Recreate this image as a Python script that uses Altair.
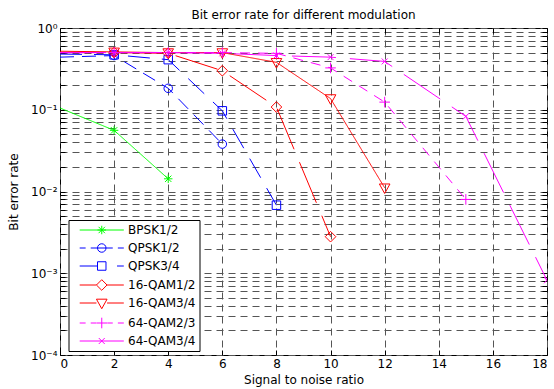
import altair as alt
import pandas as pd

# ---------------- data ----------------
series_names = ["BPSK1/2", "QPSK1/2", "QPSK3/4", "16-QAM1/2",
                "16-QAM3/4", "64-QAM2/3", "64-QAM3/4"]
series_colors = ["#00ff00", "#0000ff", "#0000ff", "#ff0000",
                 "#ff0000", "#ff00ff", "#ff00ff"]

bpsk12_snr = [0, 2, 4]
bpsk12_ber = [0.105, 0.056, 0.0143]

qpsk12_snr = [0, 2, 4, 6]
qpsk12_ber = [0.44, 0.46, 0.183, 0.038]

qpsk34_snr = [0, 2, 4, 6, 8]
qpsk34_ber = [0.48, 0.47, 0.41, 0.097, 0.0068]

qam16_12_snr = [0, 2, 4, 6, 8, 10]
qam16_12_ber = [0.50, 0.50, 0.49, 0.30, 0.108, 0.0028]

qam16_34_snr = [0, 2, 4, 6, 8, 10, 12]
qam16_34_ber = [0.52, 0.51, 0.50, 0.50, 0.38, 0.137, 0.0111]

qam64_23_snr = [0, 2, 4, 6, 8, 10, 12, 15]
qam64_23_ber = [0.50, 0.50, 0.50, 0.50, 0.49, 0.325, 0.124, 0.008]

qam64_34_snr = [0, 2, 4, 6, 8, 10, 12, 15, 18]
qam64_34_ber = [0.50, 0.50, 0.50, 0.49, 0.46, 0.44, 0.39, 0.083, 0.00082]

x_tick_values = [0, 2, 4, 6, 8, 10, 12, 14, 16, 18]
y_decades = [1, 0.1, 0.01, 0.001, 0.0001]
y_tick_labels = ["10⁰", "10⁻¹", "10⁻²", "10⁻³", "10⁻⁴"]

# ---------------- table ----------------
all_snr = [bpsk12_snr, qpsk12_snr, qpsk34_snr, qam16_12_snr,
           qam16_34_snr, qam64_23_snr, qam64_34_snr]
all_ber = [bpsk12_ber, qpsk12_ber, qpsk34_ber, qam16_12_ber,
           qam16_34_ber, qam64_23_ber, qam64_34_ber]
rows = []
for name, xs, ys in zip(series_names, all_snr, all_ber):
    for xv, yv in zip(xs, ys):
        rows.append({"series": name, "snr": xv, "ber": yv})
df = pd.DataFrame(rows)

y_grid_values = [m * d for d in y_decades[1:] for m in range(1, 10)] + [1]
label_expr = " : ".join(
    f"abs(datum.value - {v}) < {v * 1e-6} ? '{t}'" for v, t in zip(y_decades, y_tick_labels)
) + " : ''"

# ---------------- styles ----------------
FONT = "DejaVu Sans"
TICK = 5
dash_styles = [[1, 0], [14, 8], [22, 12], [44, 14], [1, 0], [10, 8], [44, 14]]

m_star = "M-1,0H1M0,-1V1M-0.75,-0.75L0.75,0.75M-0.75,0.75L0.75,-0.75"
m_circle = "M-1,0A1,1,0,1,1,1,0A1,1,0,1,1,-1,0Z"
m_square = "M-1,-1H1V1H-1Z"
m_diamond = "M0,-1.25L1.25,0L0,1.25L-1.25,0Z"
m_tri = "M-1.25,-0.9H1.25L0,1.35Z"
m_plus = "M-1.25,0H1.25M0,-1.25V1.25"
m_x = "M-0.7,-0.7L0.7,0.7M-0.7,0.7L0.7,-0.7"
marker_paths = [m_star, m_circle, m_square, m_diamond, m_tri, m_plus, m_x]

legend_paths = [
    "M-5.2,0H5.2" + m_star,
    "M-5.2,0H-3.8M-2.6,0H2.6M3.8,0H5.2" + m_circle,
    "M-5.2,0H-1M3.6,0H5.2" + m_square,
    "M-5.2,0H-1.25M1.25,0H5.2" + m_diamond,
    "M-5.2,0H-1.25M1.25,0H5.2" + m_tri,
    "M-5.2,0H-3.8M-2.6,0H-1.3M1.3,0H2.6M3.8,0H5.2" + m_plus,
    "M-5.2,0H5.2" + m_x,
]

color_scale = alt.Scale(domain=series_names, range=series_colors)
x_scale = alt.Scale(domain=[0, 18], nice=False, zero=False)
y_scale = alt.Scale(type="log", domain=[0.0001, 1], nice=False)

common_axis = dict(gridDash=[7, 5], gridColor="#555", gridWidth=1,
                   tickSize=TICK, offset=-TICK, tickColor="black", tickWidth=1,
                   domain=False, labelFont=FONT, labelFontSize=12, labelColor="black",
                   titleFont=FONT, titleFontSize=12, titleFontWeight="normal",
                   titleColor="black")

x_enc = alt.X("snr:Q", scale=x_scale,
              axis=alt.Axis(values=x_tick_values, format="d", title="Signal to noise ratio",
                            grid=True, labelPadding=3, titlePadding=5, **common_axis))
y_enc = alt.Y("ber:Q", scale=y_scale,
              axis=alt.Axis(values=y_grid_values, labelExpr=label_expr, labelOverlap=False,
                            title="Bit error rate", grid=True, labelPadding=3,
                            titleX=-47 - TICK, titleY=163.5, titleAngle=270,
                            titleAlign="center", titleBaseline="middle", **common_axis))

x_enc_top = alt.X("snr:Q", scale=x_scale,
                  axis=alt.Axis(orient="top", values=x_tick_values, labels=False, title=None,
                                grid=False, tickSize=TICK, offset=-TICK, tickColor="black",
                                domain=False))
y_enc_right = alt.Y("ber:Q", scale=y_scale,
                    axis=alt.Axis(orient="right", values=y_grid_values, labels=False,
                                  title=None, grid=False, tickSize=TICK, offset=-TICK,
                                  tickColor="black", domain=False))

base = alt.Chart(df)

lines = base.mark_line(strokeWidth=1, clip=True).encode(
    x=x_enc, y=y_enc,
    color=alt.Color("series:N", scale=color_scale, legend=None),
    strokeDash=alt.StrokeDash("series:N",
                              scale=alt.Scale(domain=series_names, range=dash_styles),
                              legend=None),
    order="snr:Q",
)

points = base.transform_filter("datum.snr > 0").mark_point(
    filled=False, size=72, strokeWidth=1, opacity=1, clip=True
).encode(
    x=alt.X("snr:Q", scale=x_scale, axis=None),
    y=alt.Y("ber:Q", scale=y_scale, axis=None),
    color=alt.Color("series:N", scale=color_scale, legend=None),
    shape=alt.Shape("series:N", scale=alt.Scale(domain=series_names, range=marker_paths),
                    legend=None),
)

leg = alt.Legend(title=None, orient="none", legendX=8.5, legendY=192, padding=4,
                 rowPadding=4, fillColor="white", strokeColor="black",
                 symbolSize=72, symbolStrokeWidth=1, symbolOffset=23.25,
                 labelOffset=20.3, labelFont=FONT, labelFontSize=12,
                 labelColor="black", symbolOpacity=1, symbolFillColor="transparent")

legend_layer = base.transform_filter("false").mark_point(
    filled=False, size=72, strokeWidth=1, opacity=1
).encode(
    x=x_enc_top, y=y_enc_right,
    color=alt.Color("series:N", scale=color_scale, legend=leg),
    shape=alt.Shape("series:N", scale=alt.Scale(domain=series_names, range=legend_paths),
                    legend=leg),
)

chart = alt.layer(lines, points, legend_layer).resolve_scale(
    color="independent", shape="independent", strokeDash="independent"
).resolve_axis(
    x="independent", y="independent"
).properties(
    width=487, height=327,
    title=alt.TitleParams("Bit error rate for different modulation", font=FONT,
                          fontSize=12, fontWeight="normal", color="black",
                          anchor="middle", offset=0, frame="group"),
    autosize=alt.AutoSizeParams(type="none"),
    padding={"left": 60, "top": 28, "right": 7, "bottom": 34},
    background="white",
).configure_view(stroke="black", strokeWidth=1)

chart.save("out.html", embed_options={"renderer": "svg", "actions": False})
